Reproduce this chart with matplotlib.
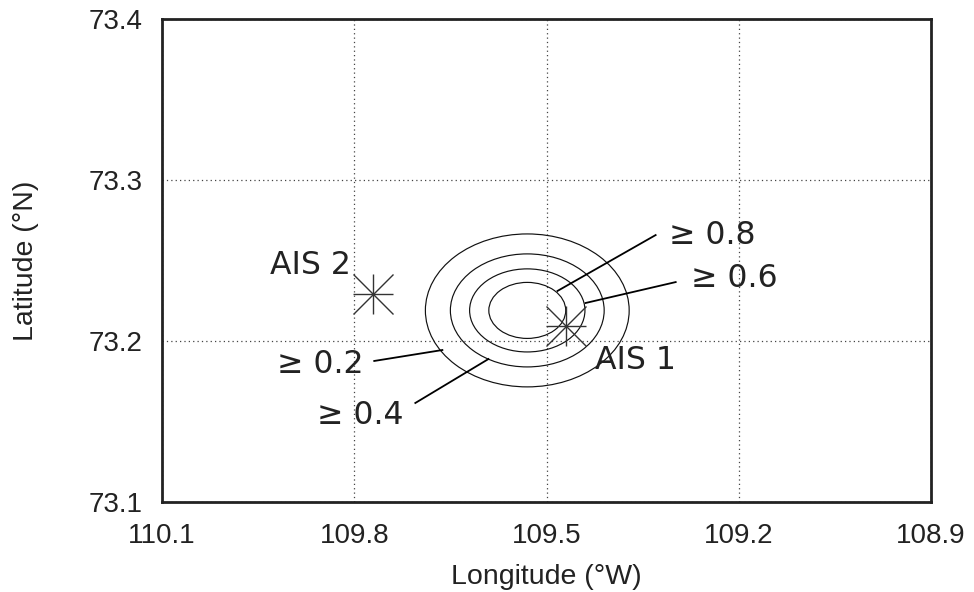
import matplotlib
matplotlib.use("Agg")
import matplotlib.pyplot as plt
from matplotlib.patches import Ellipse

# ---- data ----
center_lon = 109.530
center_lat = 73.219
levels = [0.2, 0.4, 0.6, 0.8]
semi_lon = [0.159, 0.120, 0.090, 0.060]
semi_lat = [0.0475, 0.0351, 0.0258, 0.0174]

ais_names = ["AIS 1", "AIS 2"]
ais_lon = [109.470, 109.770]
ais_lat = [73.2093, 73.2294]
ais_text_lon = [109.425, 109.931]
ais_text_lat = [73.1826, 73.2416]

# level label positions and leader lines (start at text, end at contour)
lvl_text_lon = [109.920, 109.858, 109.275, 109.309]
lvl_text_lat = [73.1801, 73.1484, 73.2335, 73.2602]
lvl_line_lon0 = [109.7688, 109.7047, 109.2984, 109.3297]
lvl_line_lat0 = [73.1876, 73.1615, 73.2366, 73.2658]
lvl_line_lon1 = [109.6625, 109.5906, 109.4391, 109.4828]
lvl_line_lat1 = [73.1944, 73.1888, 73.2236, 73.2311]

xticks = [110.1, 109.8, 109.5, 109.2, 108.9]
yticks = [73.1, 73.2, 73.3, 73.4]

# ---- plot ----
fig = plt.figure(figsize=(9.74, 5.92), dpi=100)
ax = fig.add_axes([162/974, 1-502/592, (931-162)/974, (502-19)/592])

ax.set_xlim(110.1, 108.9)
ax.set_ylim(73.1, 73.4)

for a, b in zip(semi_lon, semi_lat):
    ax.add_patch(Ellipse((center_lon, center_lat), 2*a, 2*b, fill=False,
                         edgecolor="#111111", linewidth=0.85, zorder=3))

for lev, tx, ty, x0, y0, x1, y1 in zip(levels, lvl_text_lon, lvl_text_lat,
                                       lvl_line_lon0, lvl_line_lat0,
                                       lvl_line_lon1, lvl_line_lat1):
    ax.plot([x0, x1], [y0, y1], color="black", linewidth=1.3, zorder=4)
    ax.text(tx, ty, "\u2265 %.1f" % lev, family="DejaVu Sans", fontsize=22.7,
            ha="left", va="baseline", color="#222222", zorder=5)

for name, lx, ly, tx, ty in zip(ais_names, ais_lon, ais_lat, ais_text_lon, ais_text_lat):
    ax.plot([lx], [ly], marker="+", markersize=29, mew=1.0, color="#333333", zorder=4)
    ax.plot([lx], [ly], marker="x", markersize=29, mew=1.0, color="#333333", zorder=4)
    ax.text(tx, ty, name, family="DejaVu Sans", fontsize=22.7,
            ha="left", va="baseline", color="#222222", zorder=5)

ax.set_xticks(xticks)
ax.set_xticklabels(["%.1f" % v for v in xticks])
ax.set_yticks(yticks)
ax.set_yticklabels(["%.1f" % v for v in yticks])
ax.tick_params(length=0, labelsize=20, labelcolor="#222222")
ax.tick_params(axis="x", pad=15)
ax.tick_params(axis="y", pad=14)
for lab in ax.get_xticklabels() + ax.get_yticklabels():
    lab.set_family("Liberation Sans")

ax.grid(True, color="#444444", linestyle=(0, (1, 2.5)), linewidth=0.9)
for s in ax.spines.values():
    s.set_linewidth(2)
    s.set_color("#222222")
    s.set_zorder(6)

ax.set_xlabel("Longitude (\u00b0W)", family="Liberation Sans", fontsize=20.5,
              color="#222222", labelpad=11)
ax.set_ylabel("Latitude (\u00b0N)", family="Liberation Sans", fontsize=20.5,
              color="#222222", labelpad=36)

fig.savefig("out.png", dpi=100)
